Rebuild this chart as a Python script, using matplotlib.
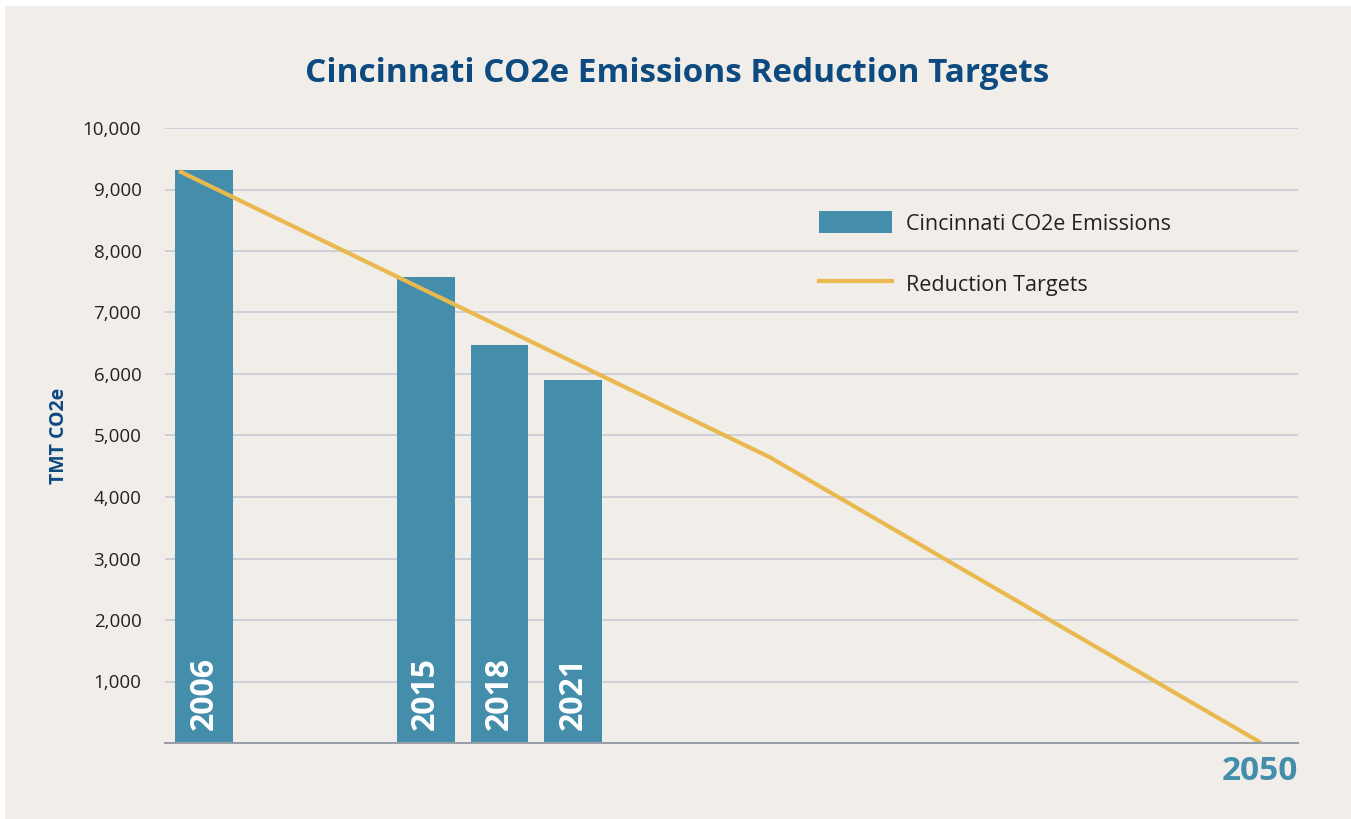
import matplotlib.pyplot as plt
from matplotlib.lines import Line2D
from matplotlib.patches import Patch, Rectangle
from matplotlib.ticker import FuncFormatter

# emissions (TMT CO2e) by inventory year
bar_years = [2006, 2015, 2018, 2021]
emissions = [9320, 7580, 6470, 5900]

# reduction target path
target_years = [2006, 2030, 2050]
targets = [9300, 4650, 0]

y_ticks = [1000, 2000, 3000, 4000, 5000, 6000, 7000, 8000, 9000, 10000]

BG = "#f1eeea"
TEAL = "#448eac"
GOLD = "#e9b94f"
NAVY = "#0d4a80"

plt.rcParams["font.family"] = ["Open Sans", "DejaVu Sans"]

fig = plt.figure(figsize=(13.51, 8.19), dpi=100)
fig.patch.set_facecolor("white")
fig.patches.append(Rectangle((5 / 1351, 0), 1, 1 - 6 / 819, transform=fig.transFigure,
                             facecolor=BG, edgecolor="none", zorder=-10))

ax = fig.add_axes([165 / 1351, 1 - 743 / 819, (1298 - 165) / 1351, (743 - 128) / 819])
ax.set_facecolor(BG)

ax.bar([y - 0.15 for y in bar_years], emissions, width=2.35, align="edge",
       color=TEAL, zorder=2)
for y in bar_years:
    ax.text(y - 0.15 + 2.35 / 2, 210, str(y), rotation=90, ha="center", va="bottom",
            color="white", fontsize=23, fontweight="bold", zorder=3)

ax.plot(target_years, targets, color=GOLD, lw=3, zorder=4, solid_capstyle="butt")

ax.set_xlim(2005.43, 2051.49)
ax.set_ylim(0, 10000)
ax.set_yticks(y_ticks)
ax.yaxis.set_major_formatter(FuncFormatter(lambda v, p: f"{int(v):,}"))
ax.tick_params(axis="y", length=0, pad=17, labelsize=13.5, labelcolor="#222222")
ax.set_xticks([])
ax.grid(axis="y", color="#c9cbd4", lw=1.2, zorder=0)
for s in ["top", "right", "left"]:
    ax.spines[s].set_visible(False)
ax.spines["bottom"].set_color("#9a9ea8")
ax.spines["bottom"].set_linewidth(1.5)
ax.spines["bottom"].set_zorder(5)

ax.text(1.0, -0.046, "2050", transform=ax.transAxes, ha="right", va="center",
        color=TEAL, fontsize=24, fontweight="bold")

ax.set_ylabel("TMT CO2e", color=NAVY, fontsize=14, fontweight="bold", labelpad=10)

fig.text(677 / 1351, 1 - 74 / 819, "Cincinnati CO2e Emissions Reduction Targets",
         ha="center", va="center", color=NAVY, fontsize=24, fontweight="bold")

handles = [Patch(facecolor=TEAL, edgecolor="none"),
           Line2D([0], [0], color=GOLD, lw=3)]
leg = ax.legend(handles, ["Cincinnati CO2e Emissions", "Reduction Targets"],
                loc="upper left", bbox_to_anchor=(0.56, 0.896), frameon=False,
                fontsize=15.5, handlelength=3.4, handleheight=1.2,
                labelspacing=1.75, handletextpad=0.65)
for t in leg.get_texts():
    t.set_color("#222222")

fig.savefig("out.png", dpi=100, facecolor=fig.get_facecolor())
